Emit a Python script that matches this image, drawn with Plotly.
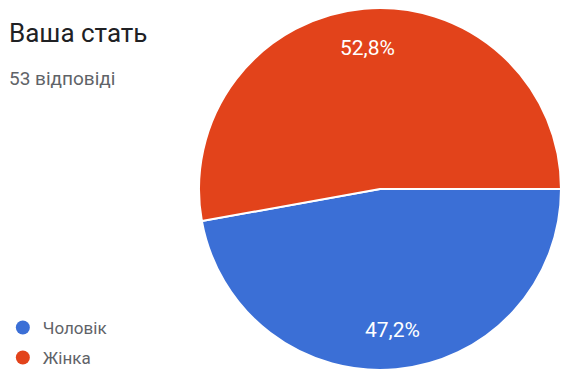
import math
import plotly.graph_objects as go

# Survey answers: "Ваша стать" (53 responses)
labels = ["Чоловік", "Жінка"]
counts = [25, 28]
colors = ["#3B6FD6", "#E2431B"]
title_text = "Ваша стать"
subtitle_text = "53 відповіді"

W, H = 566, 370
CX, CY, R = 380, 189, 181   # pie centre / radius in pixels
START = 90                   # first slice starts at 3 o'clock, clockwise

fig = go.Figure()

fig.add_trace(go.Pie(
    labels=labels,
    values=counts,
    sort=False,
    direction="clockwise",
    rotation=START,
    marker=dict(colors=colors, line=dict(color="white", width=2)),
    textinfo="none",
    hoverinfo="label+value+percent",
    showlegend=False,
    domain=dict(x=[(CX - R) / W, (CX + R) / W], y=[(H - CY - R) / H, (H - CY + R) / H]),
))

# Legend entries drawn as round markers
for lab, col in zip(labels, colors):
    fig.add_trace(go.Scatter(
        x=[None], y=[None], mode="markers", name=lab, legendgroup=lab,
        marker=dict(color=col, size=14, symbol="circle"),
    ))

# Percentage labels placed near the outer part of each slice
total = sum(counts)
annotations = []
acc = 0
for c in counts:
    mid = math.radians(START + 360 * (acc + c / 2) / total)
    acc += c
    px = CX + 0.78 * R * math.sin(mid)
    py = CY - 0.78 * R * math.cos(mid)
    pct = f"{100 * c / total:.1f}".replace(".", ",") + "%"
    annotations.append(dict(
        text=pct, x=px / W, y=1 - py / H, xref="paper", yref="paper",
        xanchor="center", yanchor="middle", showarrow=False,
        font=dict(size=21, color="white", family="Roboto"),
    ))

annotations += [
    dict(text=title_text, x=7 / W, y=1 - 33 / H, xref="paper", yref="paper",
         xanchor="left", yanchor="middle", showarrow=False,
         font=dict(size=26, color="#202124", family="Roboto")),
    dict(text=subtitle_text, x=7 / W, y=1 - 78 / H, xref="paper", yref="paper",
         xanchor="left", yanchor="middle", showarrow=False,
         font=dict(size=19, color="#5f6368", family="Roboto")),
]

fig.update_layout(
    width=W, height=H,
    margin=dict(l=0, r=0, t=0, b=0, autoexpand=False),
    paper_bgcolor="white", plot_bgcolor="white",
    font=dict(family="Roboto", color="#5f6368"),
    xaxis=dict(visible=False), yaxis=dict(visible=False),
    legend=dict(
        x=0.005, y=-0.016, xanchor="left", yanchor="bottom",
        font=dict(size=17, color="#5f6368", family="Roboto"),
        tracegroupgap=5,
        bgcolor="rgba(0,0,0,0)",
    ),
    annotations=annotations,
)

fig.write_html("out.html")
